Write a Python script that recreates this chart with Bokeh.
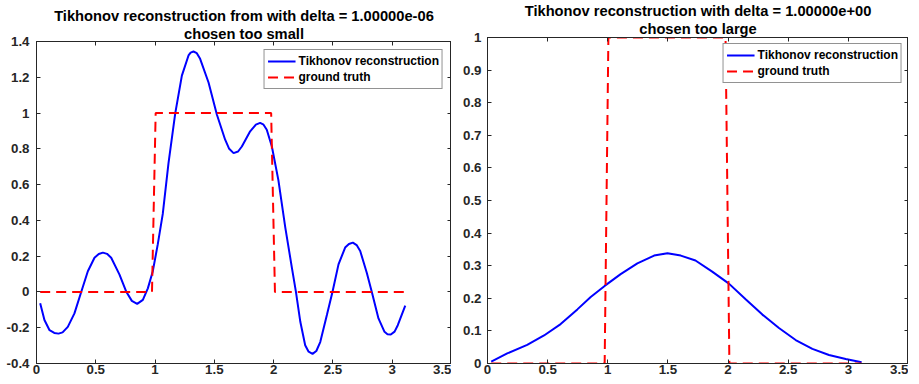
from bokeh.plotting import figure
from bokeh.models import Range1d, LinearAxis, FixedTicker, Legend, LegendItem, Title, Spacer
from bokeh.layouts import row, column
from bokeh.embed import file_html
from bokeh.resources import INLINE

# ---- data ----
x_truth = [0.031, 0.974, 1.005, 1.979, 2.011, 3.110]
y_truth = [0, 0, 1, 1, 0, 0]

x_small = [0.031, 0.067, 0.110, 0.150, 0.186, 0.220, 0.264, 0.320, 0.377, 0.433, 0.489,
           0.525, 0.560, 0.595, 0.630, 0.700, 0.756, 0.804, 0.849, 0.897, 0.939, 0.981,
           1.023, 1.065, 1.113, 1.170, 1.226, 1.282, 1.300, 1.324, 1.352, 1.380, 1.451,
           1.521, 1.591, 1.625, 1.662, 1.700, 1.732, 1.802, 1.850, 1.886, 1.915, 1.942,
           1.985, 2.040, 2.098, 2.154, 2.188, 2.225, 2.266, 2.295, 2.328, 2.360, 2.393,
           2.449, 2.496, 2.547, 2.603, 2.635, 2.668, 2.700, 2.730, 2.786, 2.828, 2.884,
           2.935, 2.960, 2.988, 3.020, 3.047, 3.110]
y_small = [-0.063, -0.157, -0.214, -0.229, -0.233, -0.226, -0.195, -0.120, 0.000, 0.116, 0.191,
           0.212, 0.220, 0.213, 0.191, 0.097, 0.003, -0.050, -0.067, -0.044, 0.020, 0.116,
           0.267, 0.436, 0.719, 0.998, 1.209, 1.322, 1.338, 1.344, 1.335, 1.303, 1.171,
           0.992, 0.851, 0.800, 0.776, 0.785, 0.813, 0.898, 0.935, 0.945, 0.935, 0.907,
           0.813, 0.625, 0.361, 0.135, 0.000, -0.167, -0.298, -0.334, -0.346, -0.330, -0.280,
           -0.129, 0.000, 0.154, 0.248, 0.268, 0.276, 0.262, 0.229, 0.106, 0.000, -0.148,
           -0.223, -0.236, -0.238, -0.222, -0.186, -0.076]

x_large = [0.031, 0.164, 0.330, 0.470, 0.608, 0.747, 0.858, 0.974, 1.107, 1.246, 1.385,
           1.496, 1.607, 1.729, 1.868, 2.007, 2.146, 2.285, 2.423, 2.562, 2.701, 2.839,
           2.978, 3.110]
y_large = [0.006, 0.031, 0.057, 0.086, 0.121, 0.166, 0.204, 0.238, 0.274, 0.307, 0.331,
           0.338, 0.331, 0.316, 0.282, 0.245, 0.197, 0.150, 0.109, 0.072, 0.045, 0.026,
           0.014, 0.004]

x_ticks = [0, 0.5, 1, 1.5, 2, 2.5, 3, 3.5]
x_tick_labels = ["0", "0.5", "1", "1.5", "2", "2.5", "3", "3.5"]
y_ticks_small = [-0.4, -0.2, 0, 0.2, 0.4, 0.6, 0.8, 1, 1.2, 1.4]
y_tick_labels_small = ["-0.4", "-0.2", "0", "0.2", "0.4", "0.6", "0.8", "1", "1.2", "1.4"]
y_ticks_large = [0, 0.1, 0.2, 0.3, 0.4, 0.5, 0.6, 0.7, 0.8, 0.9, 1]
y_tick_labels_large = ["0", "0.1", "0.2", "0.3", "0.4", "0.5", "0.6", "0.7", "0.8", "0.9", "1"]

titles_small = ["Tikhonov reconstruction from with delta = 1.00000e-06", "chosen too small"]
titles_large = ["Tikhonov reconstruction with delta = 1.00000e+00", "chosen too large"]
legend_labels = ["Tikhonov reconstruction", "ground truth"]

FONT = "Liberation Sans"
AX = "#262626"


def style_axis(ax, ticks, labels, standoff=0, show_labels=True):
    ax.ticker = FixedTicker(ticks=ticks)
    ax.major_tick_in = 4
    ax.major_tick_out = 0
    ax.minor_tick_line_color = None
    ax.axis_line_color = AX
    ax.axis_line_width = 1
    ax.major_tick_line_color = AX
    ax.axis_label_standoff = 0
    if show_labels:
        ax.major_label_overrides = {t: l for t, l in zip(ticks, labels)}
        ax.major_label_text_font = FONT
        ax.major_label_text_font_style = "bold"
        ax.major_label_text_font_size = "13.3px"
        ax.major_label_text_color = AX
        ax.major_label_standoff = standoff
    else:
        ax.major_label_text_color = None
        ax.major_label_text_font_size = "1px"
        ax.major_label_standoff = 0


def make_panel(xs, ys, yr, yticks, ylabels, titles, fw, h, ystand, leg_margin, t2_standoff):
    p = figure(frame_width=fw, height=h, min_border=0,
               x_range=Range1d(0, 3.5), y_range=Range1d(*yr),
               output_backend="svg", toolbar_location=None)
    p.xgrid.visible = False
    p.ygrid.visible = False
    p.outline_line_color = AX
    p.background_fill_color = "white"
    p.border_fill_color = "white"

    style_axis(p.xaxis[0], x_ticks, x_tick_labels, standoff=1)
    style_axis(p.yaxis[0], yticks, ylabels, standoff=ystand)
    top = LinearAxis()
    style_axis(top, x_ticks, x_tick_labels, show_labels=False)
    p.add_layout(top, "above")
    right = LinearAxis()
    style_axis(right, yticks, ylabels, show_labels=False)
    p.add_layout(right, "right")

    for txt, so in [(titles[1], t2_standoff), (titles[0], 0)]:
        p.add_layout(Title(text=txt, align="center", standoff=so,
                           text_font=FONT, text_font_style="bold",
                           text_font_size="14.7px", text_color="black"), "above")

    r1 = p.line(xs, ys, line_color="#0000FF", line_width=2)
    r2 = p.line(x_truth, y_truth, line_color="#FF0000", line_width=2, line_dash="10 6")

    legend = Legend(items=[LegendItem(label=legend_labels[0], renderers=[r1]),
                           LegendItem(label=legend_labels[1], renderers=[r2])],
                    location="top_right", margin=leg_margin, padding=3, spacing=0,
                    glyph_width=28, glyph_height=16, label_height=16, label_standoff=3,
                    border_line_color=AX, border_line_width=1,
                    background_fill_color="white", background_fill_alpha=1,
                    label_text_font=FONT, label_text_font_style="bold",
                    label_text_font_size="12px", label_text_color="black")
    p.add_layout(legend)
    return p


p1 = make_panel(x_small, y_small, (-0.4, 1.4), y_ticks_small, y_tick_labels_small,
                titles_small, 415, 371, 7, 8, 0)
p2 = make_panel(x_large, y_large, (0, 1), y_ticks_large, y_tick_labels_large,
                titles_large, 421, 376, 6, 6, 1)

left = column(Spacer(width=10, height=5), p1)
layout = row(Spacer(width=3, height=376), left, Spacer(width=9, height=376), p2)
open("out.html", "w").write(file_html(layout, INLINE))
